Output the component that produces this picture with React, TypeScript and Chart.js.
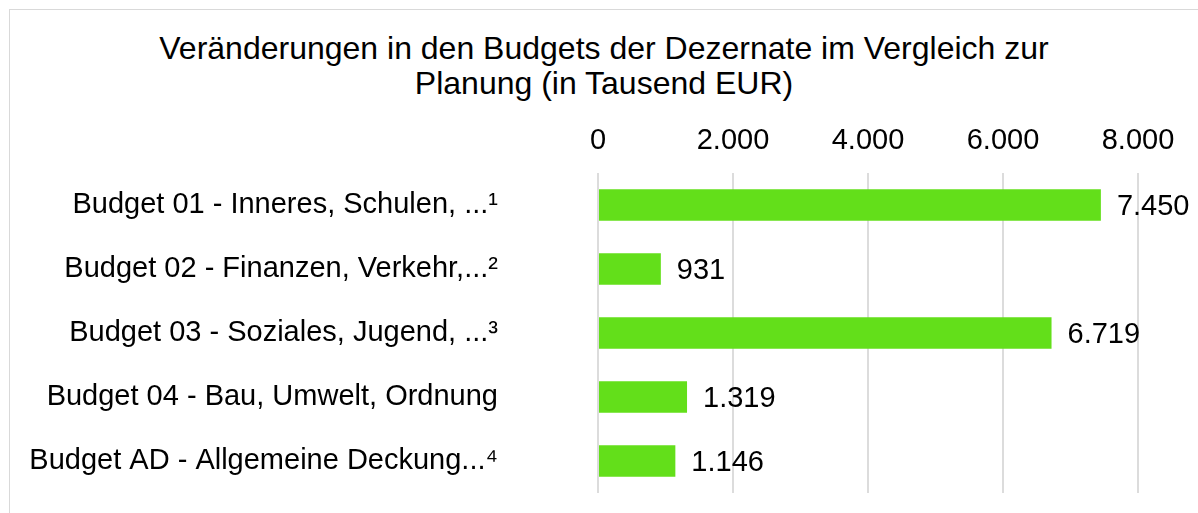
import React, { useEffect, useRef } from "react";
import { Chart, registerables } from "chart.js";

Chart.register(...registerables);

const categories: string[] = [
  "Budget 01 - Inneres, Schulen, ...¹",
  "Budget 02 - Finanzen, Verkehr,...²",
  "Budget 03 - Soziales, Jugend, ...³",
  "Budget 04 - Bau, Umwelt, Ordnung",
  "Budget AD - Allgemeine Deckung...⁴",
];
const values: number[] = [7450, 931, 6719, 1319, 1146];
const titleLines: string[] = [
  "Veränderungen in den Budgets der Dezernate im Vergleich zur",
  "Planung (in Tausend EUR)",
];
const axisMin = 0;
const axisMax = 8000;
const axisStep = 2000;

const FONT = "'Liberation Sans', Arial, sans-serif";
const fmt = (v: number) =>
  String(Math.round(v)).replace(/\B(?=(\d{3})+(?!\d))/g, ".");

const valueLabels = {
  id: "valueLabels",
  afterDatasetsDraw(chart: any) {
    const ctx = chart.ctx;
    const meta = chart.getDatasetMeta(0);
    const data = chart.data.datasets[0].data as number[];
    ctx.save();
    ctx.font = `29px ${FONT}`;
    ctx.fillStyle = "#000";
    ctx.textAlign = "left";
    ctx.textBaseline = "middle";
    meta.data.forEach((bar: any, i: number) => {
      ctx.fillText(fmt(data[i]), bar.x + 16, bar.y + 2);
    });
    ctx.restore();
  },
};

export default function App() {
  const ref = useRef<HTMLCanvasElement>(null);
  useEffect(() => {
    document.documentElement.style.overflow = "hidden";
    const chart = new Chart(ref.current!, {
      type: "bar",
      data: {
        labels: categories,
        datasets: [
          {
            data: values,
            backgroundColor: "#63df1a",
            borderWidth: 0,
            barPercentage: 0.49,
            categoryPercentage: 1,
          },
        ],
      },
      options: {
        indexAxis: "y",
        responsive: true,
        maintainAspectRatio: false,
        animation: false,
        layout: { padding: { left: 0, right: 60, top: 0, bottom: 22 } },
        plugins: {
          legend: { display: false },
          tooltip: { enabled: false },
          title: { display: false },
        },
        scales: {
          x: {
            position: "top",
            min: axisMin,
            max: axisMax,
            ticks: {
              stepSize: axisStep,
              color: "#000",
              font: { family: FONT, size: 29 },
              padding: 15,
              maxRotation: 0,
              callback: (v: any) => fmt(Number(v)),
            },
            grid: { color: "#dcdcdc", lineWidth: 2, drawTicks: false },
            border: { display: false },
            afterFit: (s: any) => {
              s.height = 70;
            },
          },
          y: {
            ticks: {
              color: "#000",
              font: { family: FONT, size: 29 },
              padding: 100,
            },
            grid: { display: false, drawTicks: false },
            border: { display: false },
            afterFit: (s: any) => {
              s.width = 588;
              s.paddingTop = 0;
              s.paddingBottom = 0;
            },
          },
        },
      },
      plugins: [valueLabels],
    });
    return () => chart.destroy();
  }, []);
  return (
    <div
      style={{
        position: "absolute",
        left: 9,
        top: 9,
        width: 1200,
        height: 530,
        border: "1px solid #d9d9d9",
        boxSizing: "border-box",
        background: "#fff",
      }}
    >
      <div
        style={{
          fontFamily: FONT,
          fontSize: 32,
          lineHeight: "35px",
          textAlign: "center",
          color: "#000",
          width: 1188,
          paddingTop: 21,
          height: 93,
          boxSizing: "border-box",
        }}
      >
        {titleLines.map((t, i) => (
          <div key={i}>{t}</div>
        ))}
      </div>
      <div style={{ position: "relative", width: 1188, height: 412 }}>
        <canvas ref={ref} />
      </div>
    </div>
  );
}
